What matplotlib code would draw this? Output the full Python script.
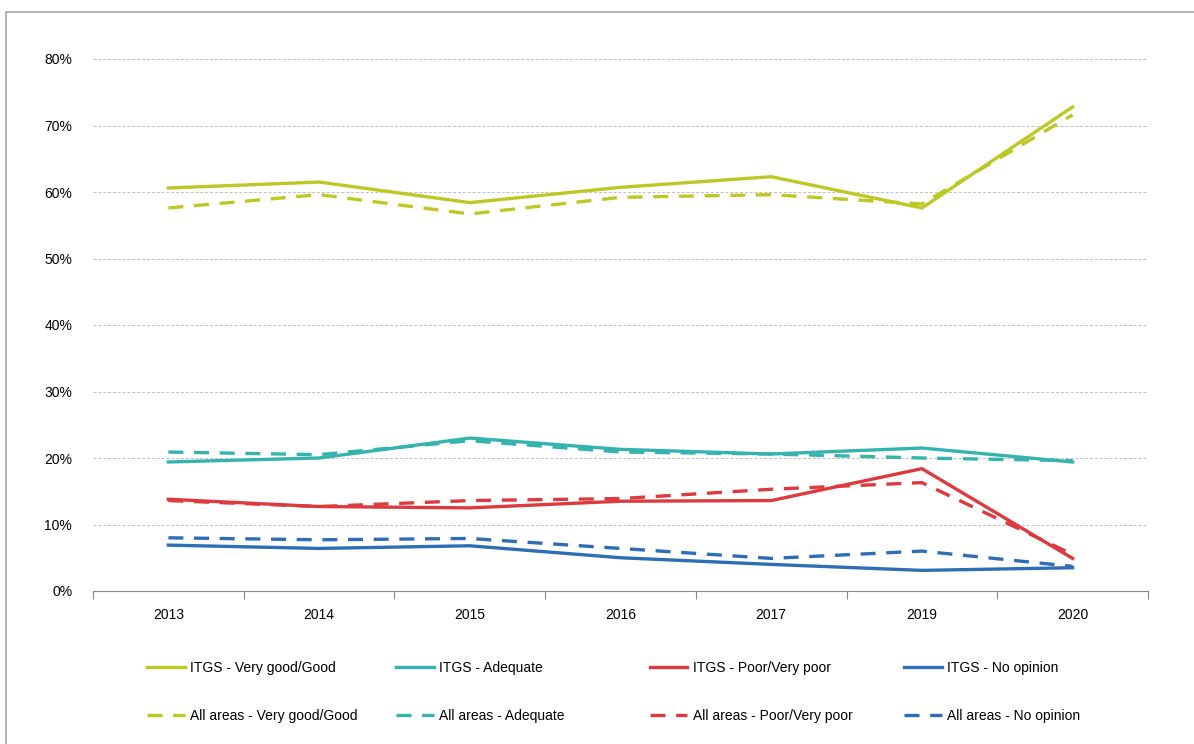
import matplotlib
matplotlib.use('Agg')
import matplotlib.pyplot as plt
from matplotlib.lines import Line2D
from matplotlib.patches import Rectangle
from matplotlib.ticker import FixedLocator

plt.rcParams['font.family'] = ['Liberation Sans', 'DejaVu Sans']

# data (share of responses, %)
years = ['2013', '2014', '2015', '2016', '2017', '2019', '2020']

itgs_good = [60.6, 61.5, 58.4, 60.7, 62.3, 57.6, 72.8]
itgs_adequate = [19.4, 20.0, 23.0, 21.3, 20.6, 21.5, 19.4]
itgs_poor = [13.8, 12.7, 12.5, 13.5, 13.6, 18.4, 4.9]
itgs_noop = [6.9, 6.4, 6.8, 5.0, 4.0, 3.1, 3.5]

all_good = [57.6, 59.6, 56.7, 59.2, 59.6, 58.2, 71.6]
all_adequate = [20.9, 20.5, 22.6, 20.9, 20.6, 20.0, 19.6]
all_poor = [13.6, 12.7, 13.6, 13.9, 15.3, 16.3, 5.5]
all_noop = [8.0, 7.7, 7.9, 6.4, 4.9, 6.0, 3.7]

labels_itgs = ['ITGS - Very good/Good', 'ITGS - Adequate', 'ITGS - Poor/Very poor', 'ITGS - No opinion']
labels_all = ['All areas - Very good/Good', 'All areas - Adequate', 'All areas - Poor/Very poor', 'All areas - No opinion']
colors = ['#BDC823', '#35B3AE', '#DC3A3F', '#2D6EB6']

fig = plt.figure(figsize=(11.94, 7.44), dpi=100)
ax = fig.add_axes([93/1194, 1 - 591/744, (1148 - 93)/1194, (591 - 59)/744])

x = list(range(len(years)))
itgs = [itgs_good, itgs_adequate, itgs_poor, itgs_noop]
alls = [all_good, all_adequate, all_poor, all_noop]

lw = 2.4
for vals, c in zip(alls, colors):
    ax.plot(x, vals, color=c, lw=lw, ls=(0, (4.5, 3.2)), zorder=3)
for vals, c in zip(itgs, colors):
    ax.plot(x, vals, color=c, lw=lw, zorder=4)

ax.set_xlim(-0.5, len(years) - 0.5)
ax.set_ylim(0, 80)
ax.set_yticks(range(0, 81, 10))
ax.set_yticklabels([f'{v}%' for v in range(0, 81, 10)], fontsize=10)
ax.yaxis.grid(True, color='#BFBFBF', ls=(0, (3, 2)), lw=0.7)
ax.set_axisbelow(True)
ax.tick_params(axis='y', length=0, pad=15)

ax.set_xticks(x)
ax.set_xticklabels(years, fontsize=10)
ax.xaxis.set_minor_locator(FixedLocator([i - 0.5 for i in range(len(years) + 1)]))
ax.tick_params(axis='x', which='major', length=0, pad=12)
ax.tick_params(axis='x', which='minor', length=6, color='#888888', width=0.8)

for s in ['top', 'right', 'left']:
    ax.spines[s].set_visible(False)
ax.spines['bottom'].set_color('#888888')
ax.spines['bottom'].set_linewidth(0.8)

# legend: 4 little blocks, equally spaced like excel
xs_leg = [147, 396, 650, 904]
for i in range(4):
    h = [Line2D([], [], color=colors[i], lw=lw),
         Line2D([], [], color=colors[i], lw=lw, ls=(0, (4.5, 3.2)))]
    fig.legend(h, [labels_itgs[i], labels_all[i]], loc='upper left',
               bbox_to_anchor=(xs_leg[i]/1194, 1 - 661/744), frameon=False,
               fontsize=10, handlelength=2.7, handletextpad=0.4,
               labelspacing=2.45, borderaxespad=0, borderpad=0)

# outer frame
fig.patches.append(Rectangle((6/1194, -0.01), 1.02, 1 - 12/744 + 0.01,
                             transform=fig.transFigure, fill=False,
                             edgecolor='#A6A6A6', lw=1.2))

fig.savefig('out.png', dpi=100)
